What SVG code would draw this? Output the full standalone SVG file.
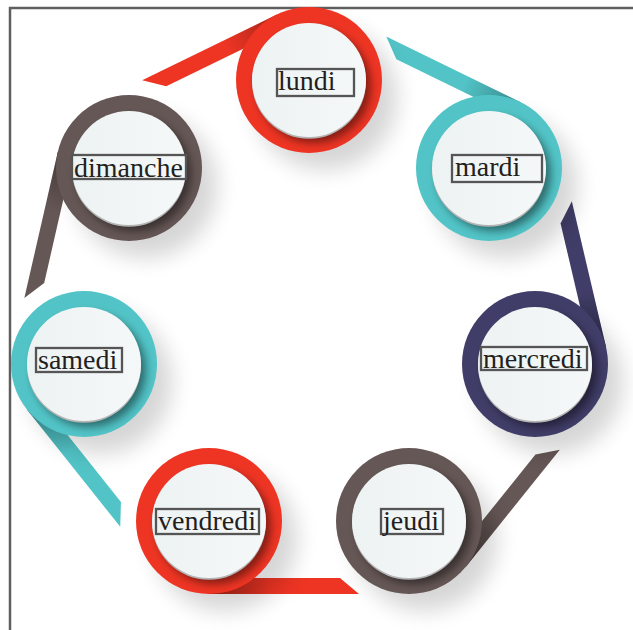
<svg xmlns="http://www.w3.org/2000/svg" width="633" height="630" viewBox="0 0 633 630">
<style>
.red{fill:#EE3524}.teal{fill:#52C4C7}.navy{fill:#403D68}.brown{fill:#655755}
.shade{fill:url(#tailshade)}
.bg{fill:#000;opacity:0.16;filter:url(#soft)}
.inner{fill:#000;opacity:0.45;filter:url(#blur)}
.rim{fill:#b4b4b4}
.disc{fill:url(#discg)}
.box{fill:none;stroke:#555;stroke-width:2.3}
.lbl{font-family:"Liberation Serif","Times New Roman",serif;font-size:28px;fill:#231f20}
</style>
<defs>
<filter id="soft" x="-60%" y="-60%" width="220%" height="220%"><feGaussianBlur stdDeviation="11"/></filter>
<filter id="blur" x="-40%" y="-40%" width="180%" height="180%"><feGaussianBlur stdDeviation="4.5"/></filter>
<linearGradient id="tailshade" gradientUnits="userSpaceOnUse" x1="0" y1="0" x2="-60" y2="0">
<stop offset="0" stop-color="#000" stop-opacity="0.32"/><stop offset="1" stop-color="#000" stop-opacity="0"/>
</linearGradient>
<linearGradient id="discg" x1="0" y1="0" x2="1" y2="0">
<stop offset="0" stop-color="#EDF2F3"/><stop offset="1" stop-color="#F5F8F8"/>
</linearGradient>
<clipPath id="ringclip"><circle r="73"/></clipPath>
<path id="tail" d="M0,-73H-150L-131,-57H0Z"/>
</defs>
<rect width="633" height="630" fill="#fff"/>
<rect x="10" y="8" width="700" height="700" fill="none" stroke="#5f5f5f" stroke-width="2.5"/>

<g id="connectors">
<g transform="translate(309,80) rotate(-26.05)"><use href="#tail" class="red"/><use href="#tail" class="shade"/></g>
<g transform="translate(489,168) rotate(26.05)"><use href="#tail" class="teal"/><use href="#tail" class="shade"/></g>
<g transform="translate(535,364) rotate(76.8)"><use href="#tail" class="navy"/><use href="#tail" class="shade"/></g>
<g transform="translate(409,521) rotate(128.75)"><use href="#tail" class="brown"/><use href="#tail" class="shade"/></g>
<g transform="translate(209,521) rotate(180)"><use href="#tail" class="red"/><use href="#tail" class="shade"/></g>
<g transform="translate(84,364) rotate(-128.5)"><use href="#tail" class="teal"/><use href="#tail" class="shade"/></g>
<g transform="translate(129,168) rotate(-77.1)"><use href="#tail" class="brown"/><use href="#tail" class="shade"/></g>
</g>

<g id="lundi" transform="translate(309,80)">
<circle class="bg" cx="16" cy="18" r="72"/>
<circle class="red" r="73"/>
<circle class="inner" cx="5" cy="6" r="57" clip-path="url(#ringclip)"/>
<circle class="rim" cy="1.8" r="57"/>
<circle class="disc" r="57"/>
</g>
<g id="mardi" transform="translate(489,168)">
<circle class="bg" cx="16" cy="18" r="72"/>
<circle class="teal" r="73"/>
<circle class="inner" cx="5" cy="6" r="57" clip-path="url(#ringclip)"/>
<circle class="rim" cy="1.8" r="57"/>
<circle class="disc" r="57"/>
</g>
<g id="mercredi" transform="translate(535,364)">
<circle class="bg" cx="16" cy="18" r="72"/>
<circle class="navy" r="73"/>
<circle class="inner" cx="5" cy="6" r="57" clip-path="url(#ringclip)"/>
<circle class="rim" cy="1.8" r="57"/>
<circle class="disc" r="57"/>
</g>
<g id="jeudi" transform="translate(409,521)">
<circle class="bg" cx="16" cy="18" r="72"/>
<circle class="brown" r="73"/>
<circle class="inner" cx="5" cy="6" r="57" clip-path="url(#ringclip)"/>
<circle class="rim" cy="1.8" r="57"/>
<circle class="disc" r="57"/>
</g>
<g id="vendredi" transform="translate(209,521)">
<circle class="bg" cx="16" cy="18" r="72"/>
<circle class="red" r="73"/>
<circle class="inner" cx="5" cy="6" r="57" clip-path="url(#ringclip)"/>
<circle class="rim" cy="1.8" r="57"/>
<circle class="disc" r="57"/>
</g>
<g id="samedi" transform="translate(84,364)">
<circle class="bg" cx="16" cy="18" r="72"/>
<circle class="teal" r="73"/>
<circle class="inner" cx="5" cy="6" r="57" clip-path="url(#ringclip)"/>
<circle class="rim" cy="1.8" r="57"/>
<circle class="disc" r="57"/>
</g>
<g id="dimanche" transform="translate(129,168)">
<circle class="bg" cx="16" cy="18" r="72"/>
<circle class="brown" r="73"/>
<circle class="inner" cx="5" cy="6" r="57" clip-path="url(#ringclip)"/>
<circle class="rim" cy="1.8" r="57"/>
<circle class="disc" r="57"/>
</g>

<g id="labels">
<rect class="box" x="277" y="69" width="77" height="27"/><text class="lbl" x="278" y="90">lundi</text>
<rect class="box" x="452" y="155" width="90" height="27"/><text class="lbl" x="455" y="176">mardi</text>
<rect class="box" x="481" y="347" width="106" height="23"/><text class="lbl" x="483" y="368">mercredi</text>
<rect class="box" x="381" y="509" width="62" height="25"/><text class="lbl" x="383" y="530">jeudi</text>
<rect class="box" x="156" y="509" width="103" height="25"/><text class="lbl" x="158" y="530">vendredi</text>
<rect class="box" x="36" y="348" width="86" height="24"/><text class="lbl" x="38" y="369">samedi</text>
<rect class="box" x="72" y="155" width="114" height="24"/><text class="lbl" x="74" y="177">dimanche</text>
</g>
</svg>
